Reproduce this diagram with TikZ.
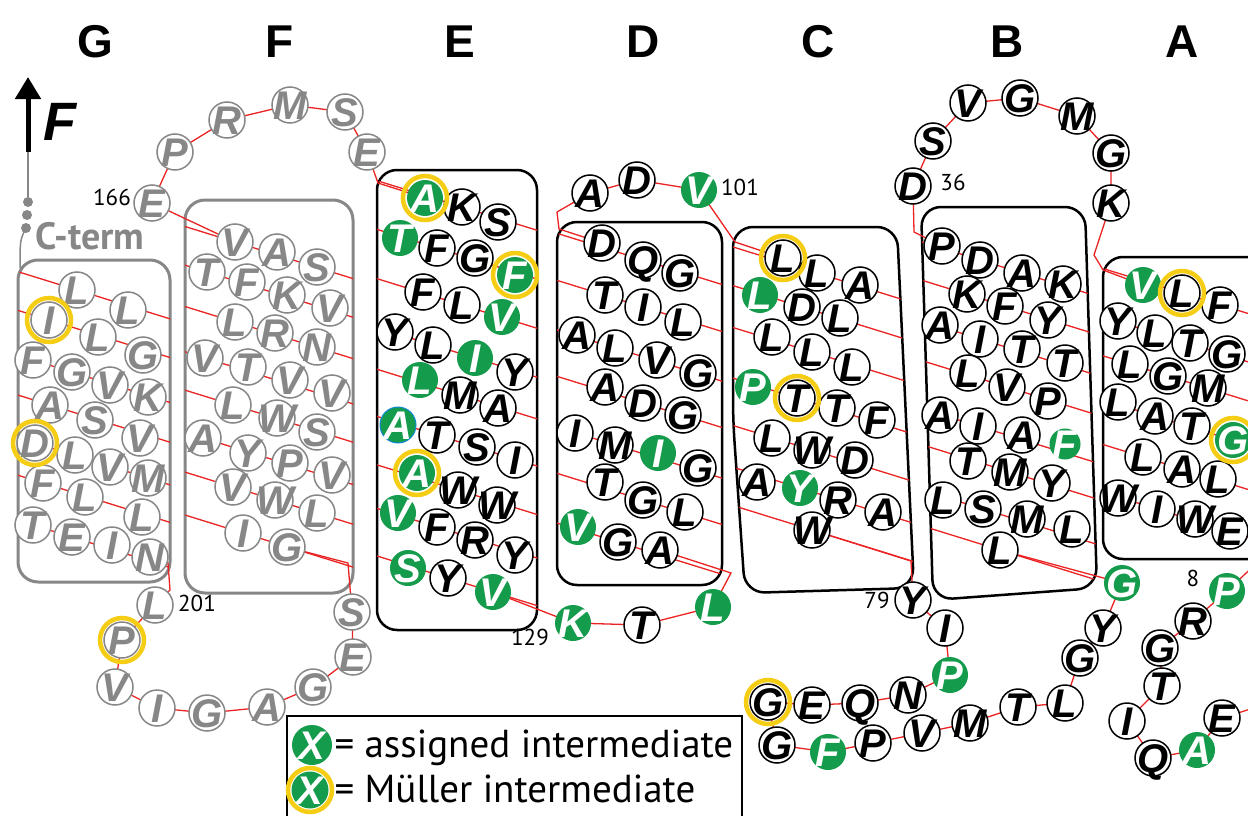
\documentclass[tikz,border=0pt]{standalone}
\usepackage{fontspec}
\setmainfont{Liberation Sans}
\newfontfamily\lsans{Liberation Sans}
\newfontfamily\ptsans{PT Sans}
\usetikzlibrary{calc,arrows.meta}
\pgfdeclarelayer{background}
\pgfsetlayers{background,main}
\definecolor{grn}{RGB}{20,155,75}
\definecolor{yel}{RGB}{245,205,20}
\definecolor{myred}{RGB}{235,35,35}
\definecolor{gry}{RGB}{135,135,135}
\newcommand\resfont{\lsans\bfseries\itshape\fontsize{40}{40}\selectfont}
\newcommand\rl[1]{\raisebox{-0.36em}[0pt][0pt]{\makebox[0pt]{#1}}}
\newcommand\rs[4][]{\node[res,#1] (#2) at (#3) {\rl{#4}};}
\newcommand\yr[1]{\draw[yring] (#1.center) circle[radius=22pt];}
\newcommand\hl[1]{\draw[redln] ($(#1.center)+(-400,-124)$) -- ($(#1.center)+(400,124)$);}
\begin{document}
\begin{tikzpicture}[x=1pt,y=-1pt,
  res/.style={circle,draw=black,line width=1.5pt,fill=white,minimum size=36pt,inner sep=0pt,font=\resfont,text=black},
  gr/.style={fill=grn,draw=none,text=white},
  gy/.style={draw=gry,text=gry,line width=1.5pt},
  bl/.style={draw=cyan!70!blue,line width=1pt},
  yring/.style={draw=yel,line width=4.5pt},
  redln/.style={draw=myred,line width=1.3pt},
  gbox/.style={draw=gry,line width=3pt,rounded corners=20pt},
  kbox/.style={draw=black,line width=2.5pt,rounded corners=20pt},
  numl/.style={font=\ptsans\fontsize{23}{23}\selectfont},
  hdr/.style={font=\lsans\bfseries\fontsize{46}{46}\selectfont},
  legt/.style={font=\ptsans\fontsize{39}{39}\selectfont,anchor=base west},
  gdot/.style={circle,fill=gry,minimum size=10pt,inner sep=0pt}]
\useasboundingbox (0,0) rectangle (1248,816);

% headers
\node[hdr] (hG) at (95,42) {G};
\node[hdr] (hF) at (280,42) {F};
\node[hdr] (hE) at (460,42) {E};
\node[hdr] (hD) at (643,42) {D};
\node[hdr] (hC) at (818,42) {C};
\node[hdr] (hB) at (1007,42) {B};
\node[hdr] (hA) at (1182,42) {A};

% force arrow and C-term
\coordinate (ab) at (28,152);
\coordinate (at) at (28,77);
\draw[line width=5pt,-{Triangle[length=22pt,width=25pt]}] (ab) -- (at);
\node[font=\lsans\bfseries\itshape\fontsize{54}{54}\selectfont] (flab) at (60,122) {F};
\node[gdot] (d1) at (28,202) {};
\node[gdot] (d2) at (27,215) {};
\node[gdot] (d3) at (26,228) {};
\coordinate (gcorner) at (20,268);
\draw[gry,line width=1.5pt] (ab) -- (d1);
\draw[gry,line width=1.5pt] (d3.center) .. controls (20,240) .. (gcorner);
\node[font=\ptsans\bfseries\fontsize{38}{38}\selectfont,text=gry] (cterm) at (90,236) {C-term};

% labels
\node[numl] (l166) at (112,197) {166};
\node[numl] (l201) at (197,603) {201};
\node[numl] (l129) at (530,637) {129};
\node[numl] (l101) at (740,187) {101};
\node[numl] (l79) at (877,600) {79};
\node[numl] (l36) at (953,182) {36};
\node[numl] (l8) at (1193,578) {8};

% ---- Box G
\rs[gy]{g11}{77,290}{L} \rs[gy]{g12}{128,310}{L}
\rs[gy]{g21}{49,320}{I} \rs[gy]{g22}{98,337}{L} \rs[gy]{g23}{143,355}{G}
\rs[gy]{g31}{33,360}{F} \rs[gy]{g32}{72,372}{G} \rs[gy]{g33}{110,385}{V} \rs[gy]{g34}{148,397}{K}
\rs[gy]{g41}{50,405}{A} \rs[gy]{g42}{95,420}{S} \rs[gy]{g43}{140,438}{V}
\rs[gy]{g51}{35,443}{D} \rs[gy]{g52}{75,455}{L} \rs[gy]{g53}{110,467}{V} \rs[gy]{g54}{148,478}{M}
\rs[gy]{g61}{43,483}{F} \rs[gy]{g62}{85,497}{L} \rs[gy]{g63}{142,517}{L}
\rs[gy]{g71}{33,525}{T} \rs[gy]{g72}{72,537}{E} \rs[gy]{g73}{112,545}{I} \rs[gy]{g74}{150,557}{N}

% ---- Box F
\rs[gy]{f11}{235,242}{V} \rs[gy]{f12}{277,252}{A} \rs[gy]{f13}{317,267}{S}
\rs[gy]{f21}{207,272}{T} \rs[gy]{f22}{247,282}{F} \rs[gy]{f23}{287,295}{K} \rs[gy]{f24}{330,308}{V}
\rs[gy]{f31}{235,322}{L} \rs[gy]{f32}{275,333}{R} \rs[gy]{f33}{317,347}{N}
\rs[gy]{f41}{205,358}{V} \rs[gy]{f42}{248,367}{T} \rs[gy]{f43}{290,380}{V} \rs[gy]{f44}{332,393}{V}
\rs[gy]{f51}{233,405}{L} \rs[gy]{f52}{277,418}{W} \rs[gy]{f53}{317,432}{S}
\rs[gy]{f61}{203,438}{A} \rs[gy]{f62}{248,453}{Y} \rs[gy]{f63}{290,463}{P} \rs[gy]{f64}{332,475}{V}
\rs[gy]{f71}{233,487}{V} \rs[gy]{f72}{275,500}{W} \rs[gy]{f73}{317,513}{L}
\rs[gy]{f81}{243,533}{I} \rs[gy]{f82}{287,547}{G}

% loops F
\rs[gy]{t1}{152,203}{E} \rs[gy]{t2}{175,152}{P} \rs[gy]{t3}{227,120}{R}
\rs[gy]{t4}{290,105}{M} \rs[gy]{t5}{345,112}{S} \rs[gy]{t6}{367,152}{E}
\rs[gy]{u1}{352,612}{S} \rs[gy]{u2}{353,657}{E} \rs[gy]{u3}{313,687}{G} \rs[gy]{u4}{267,707}{A}
\rs[gy]{u5}{207,713}{G} \rs[gy]{u6}{157,708}{I} \rs[gy]{u7}{115,687}{V} \rs[gy]{u8}{122,640}{P}
\rs[gy]{u9}{155,605}{L}

% ---- Box E
\rs[gr]{e11}{425,198}{A} \rs{e12}{462,207}{K} \rs{e13}{498,222}{S}
\rs[gr]{e21}{400,238}{T} \rs{e22}{437,248}{F} \rs{e23}{475,258}{G} \rs[gr]{e24}{515,275}{F}
\rs{e31}{423,292}{F} \rs{e32}{462,305}{L} \rs[gr]{e33}{502,317}{V}
\rs{e41}{395,332}{Y} \rs{e42}{433,345}{L} \rs[gr]{e43}{475,358}{I} \rs{e44}{515,372}{Y}
\rs[gr]{e51}{420,380}{L} \rs{e52}{460,395}{M} \rs{e53}{498,408}{A}
\rs[gr,bl]{e61}{398,425}{A} \rs{e62}{437,435}{T} \rs{e63}{477,447}{S} \rs{e64}{515,460}{I}
\rs[gr]{e71}{417,473}{A} \rs{e72}{458,490}{W} \rs{e73}{497,505}{W}
\rs[gr]{e81}{398,513}{V} \rs{e82}{437,527}{F} \rs{e83}{475,540}{R} \rs{e84}{515,555}{Y}
\rs[gr]{e91}{408,568}{S} \rs{e92}{448,578}{Y} \rs[gr]{e93}{493,592}{V}
\rs[gr]{k1}{573,623}{K} \rs{k2}{642,625}{T} \rs[gr]{k3}{713,607}{L}

% ---- Box D
\rs{d11}{602,243}{D} \rs{d12}{643,260}{Q} \rs{d13}{680,273}{G}
\rs{d21}{605,295}{T} \rs{d22}{643,307}{I} \rs{d23}{683,322}{L}
\rs{d31}{577,335}{A} \rs{d32}{615,348}{L} \rs{d33}{657,360}{V} \rs{d34}{698,373}{G}
\rs{d41}{605,387}{A} \rs{d42}{643,403}{D} \rs{d43}{683,415}{G}
\rs{d51}{575,433}{I} \rs{d52}{615,445}{M} \rs[gr]{d53}{658,453}{I} \rs{d54}{698,468}{G}
\rs{d61}{605,482}{T} \rs{d62}{643,500}{G} \rs{d63}{685,512}{L}
\rs[gr]{d71}{578,527}{V} \rs{d72}{618,542}{G} \rs{d73}{660,550}{A}
\rs{v1}{590,193}{A} \rs{v2}{637,180}{D} \rs[gr]{v3}{699,190}{V}

% ---- Box C
\rs{c11}{783,258}{L} \rs{c12}{817,273}{L} \rs{c13}{860,285}{A}
\rs[gr]{c21}{760,295}{L} \rs{c22}{802,307}{D} \rs{c23}{840,318}{L}
\rs{c31}{772,337}{L} \rs{c32}{812,352}{L} \rs{c33}{852,367}{L}
\rs[gr]{c41}{753,387}{P} \rs{c42}{797,398}{T} \rs{c43}{837,408}{T} \rs{c44}{877,420}{F}
\rs{c51}{772,438}{L} \rs{c52}{812,450}{W} \rs{c53}{855,460}{D}
\rs{c61}{757,482}{A} \rs[gr]{c62}{800,488}{Y} \rs{c63}{838,500}{R} \rs{c64}{883,512}{A}
\rs{c71}{812,530}{W}

% loop C-B
\rs{w1}{913,600}{Y} \rs{w2}{945,628}{I} \rs[gr]{w3}{950,675}{P} \rs{w4}{908,695}{N}
\rs{w5}{860,703}{Q} \rs{w6}{812,705}{E} \rs{w7}{768,702}{G} \rs{w8}{777,745}{G}
\rs[gr]{w9}{828,752}{F} \rs{w10}{873,743}{P} \rs{w11}{922,733}{V} \rs{w12}{970,723}{M}
\rs{w13}{1018,707}{T} \rs{w14}{1065,703}{L} \rs{w15}{1080,658}{G} \rs{w16}{1103,628}{Y}
\rs[gr]{w17}{1122,583}{G}

% ---- Box B
\rs{b11}{942,246}{P} \rs{b12}{980,260}{D} \rs{b13}{1022,273}{A} \rs{b14}{1063,284}{K}
\rs{b21}{967,294}{K} \rs{b22}{1005,306}{F} \rs{b23}{1048,320}{Y}
\rs{b31}{940,325}{A} \rs{b32}{980,339}{I} \rs{b33}{1022,349}{T} \rs{b34}{1065,363}{T}
\rs{b41}{968,373}{L} \rs{b42}{1007,387}{V} \rs{b43}{1048,401}{P}
\rs{b51}{940,415}{A} \rs{b52}{978,426}{I} \rs{b53}{1022,435}{A} \rs[gr,minimum size=31pt]{b54}{1065,444}{F}
\rs{b61}{968,461}{T} \rs{b62}{1010,472}{M} \rs{b63}{1052,483}{Y}
\rs{b71}{943,500}{L} \rs{b72}{983,509}{S} \rs{b73}{1027,519}{M} \rs{b74}{1072,529}{L}
\rs{b81}{1000,550}{L}
\rs{s1}{913,186}{D} \rs{s2}{933,141}{S} \rs{s3}{968,103}{V} \rs{s4}{1020,98}{G}
\rs{s5}{1077,116}{M} \rs{s6}{1111,153}{G} \rs{s7}{1111,203}{K}

% ---- Box A
\rs[gr]{a11}{1143,285}{V} \rs{a12}{1182,293}{L} \rs{a13}{1220,305}{F}
\rs{a21}{1118,321}{Y} \rs{a22}{1155,333}{L} \rs{a23}{1190,343}{T} \rs{a24}{1227,354}{G}
\rs{a31}{1130,364}{L} \rs{a32}{1168,376}{G} \rs{a33}{1208,388}{M}
\rs{a41}{1118,402}{L} \rs{a42}{1155,416}{A} \rs{a43}{1192,426}{T} \rs[gr]{a44}{1233,440}{G}
\rs{a51}{1143,457}{L} \rs{a52}{1182,469}{A} \rs{a53}{1218,479}{L}
\rs{a61}{1118,498}{W} \rs{a62}{1157,509}{I} \rs{a63}{1195,519}{W} \rs{a64}{1230,531}{E}
\rs[gr]{n1}{1227,591}{P} \rs{n2}{1193,621}{R} \rs{n3}{1160,648}{G} \rs{n4}{1162,686}{T}
\rs{n5}{1127,721}{I} \rs{n6}{1153,758}{Q} \rs[gr]{n7}{1197,750}{A} \rs{n8}{1222,718}{E}

% yellow rings
\yr{g21} \yr{g51} \yr{u8} \yr{e11} \yr{e24} \yr{e71} \yr{c11} \yr{c42} \yr{w7} \yr{a12} \yr{a44}

% legend
\draw[line width=2pt] (287,840) -- (287,716) -- (742,716) -- (742,840);
\node[res,gr,minimum size=40pt] (lg1) at (312,745) {\rl{X}};
\node[res,gr,minimum size=37pt] (lg2) at (310,790) {\rl{X}};
\yr{lg2}
\node[legt] (lt1) at (331,757) {= assigned intermediate};
\node[legt] (lt2) at (331,802) {= Müller intermediate};

\begin{pgfonlayer}{background}
\fill[white] (0,0) rectangle (1248,816);
% boxes
\draw[gbox] (18,260) rectangle (170,582);
\draw[gbox] (185,200) rectangle (353,593);
\draw[kbox] (377,170) rectangle (537,630);
\draw[kbox] (557,222) rectangle (722,585);
\draw[kbox] (733,300) -- (733,227) -- (897,227) -- (914,588) -- (745,593) -- (733,420) -- cycle;
\draw[kbox] (927,400) -- (921,207) -- (1085,207) -- (1097,588) -- (933,600) -- cycle;
\draw[kbox] (1103,257) rectangle (1300,559);
% helix lines
\begin{scope}\clip[rounded corners=20pt] (18,260) rectangle (170,582);
\hl{g11}\hl{g21}\hl{g31}\hl{g41}\hl{g51}\hl{g61}\hl{g71}\end{scope}
\begin{scope}\clip[rounded corners=20pt] (185,200) rectangle (353,593);
\hl{f11}\hl{f21}\hl{f31}\hl{f41}\hl{f51}\hl{f61}\hl{f71}\hl{f81}\end{scope}
\begin{scope}\clip[rounded corners=20pt] (377,170) rectangle (537,630);
\hl{e12}\hl{e22}\hl{e32}\hl{e42}\hl{e52}\hl{e62}\hl{e72}\hl{e82}\hl{e92}\end{scope}
\begin{scope}\clip[rounded corners=20pt] (557,222) rectangle (722,585);
\hl{d12}\hl{d22}\hl{d32}\hl{d42}\hl{d52}\hl{d62}\hl{d72}\end{scope}
\begin{scope}\clip[rounded corners=20pt] (733,300) -- (733,227) -- (897,227) -- (914,588) -- (745,593) -- (733,420) -- cycle;
\hl{c12}\hl{c22}\hl{c32}\hl{c42}\hl{c52}\hl{c62}\hl{c71}\end{scope}
\begin{scope}\clip[rounded corners=20pt] (927,400) -- (921,207) -- (1085,207) -- (1097,588) -- (933,600) -- cycle;
\hl{b12}\hl{b22}\hl{b32}\hl{b42}\hl{b52}\hl{b62}\hl{b72}\hl{b81}\end{scope}
\begin{scope}\clip[rounded corners=20pt] (1103,257) rectangle (1300,559);
\hl{a12}\hl{a22}\hl{a32}\hl{a42}\hl{a52}\hl{a62}\end{scope}
% loops
\coordinate (cE) at (378,183);
\coordinate (cF) at (348,563);
\coordinate (cG1) at (168,563);
\coordinate (cG2) at (170,590);
\coordinate (cD1) at (731,573);
\coordinate (cD2) at (557,212);
\coordinate (cD3) at (559,229);
\coordinate (cC) at (735,242);
\coordinate (cC2) at (911,561);
\coordinate (cB1) at (914,232);
\coordinate (cA1) at (1094,255);
\coordinate (cA2) at (1103,270);
\coordinate (nt1) at (1260,560);
\coordinate (nt2) at (1260,706);
\draw[redln] (t1.center) -- (f11.center);
\draw[redln] (t1.center) -- (t2.center) -- (t3.center) -- (t4.center) -- (t5.center) -- (t6.center) -- (cE) -- (e11.center);
\draw[redln] (f82.center) -- (cF) -- (u1.center) -- (u2.center) -- (u3.center) -- (u4.center) -- (u5.center) -- (u6.center) -- (u7.center) -- (u8.center) -- (u9.center) -- (cG2) -- (cG1) -- (g74.center);
\draw[redln] (e93.center) -- (k1.center) -- (k2.center) -- (k3.center) -- (cD1) -- (d73.center);
\draw[redln] (d11.center) -- (cD3) -- (cD2) -- (v1.center) -- (v2.center) -- (v3.center) -- (cC) -- (c11.center);
\draw[redln] (c71.center) -- (cC2) -- (w1.center) -- (w2.center) -- (w3.center) -- (w4.center) -- (w5.center) -- (w6.center) -- (w7.center) -- (w8.center) -- (w9.center) -- (w10.center) -- (w11.center) -- (w12.center) -- (w13.center) -- (w14.center) -- (w15.center) -- (w16.center) -- (w17.center) -- (b81.center);
\draw[redln] (b11.center) -- (cB1) -- (s1.center) -- (s2.center) -- (s3.center) -- (s4.center) -- (s5.center) -- (s6.center) -- (s7.center) -- (cA1) -- (cA2) -- (a11.center);
\draw[redln] (nt1) -- (n1.center) -- (n2.center) -- (n3.center) -- (n4.center) -- (n5.center) -- (n6.center) -- (n7.center) -- (n8.center) -- (nt2);
\end{pgfonlayer}
\end{tikzpicture}
\end{document}
